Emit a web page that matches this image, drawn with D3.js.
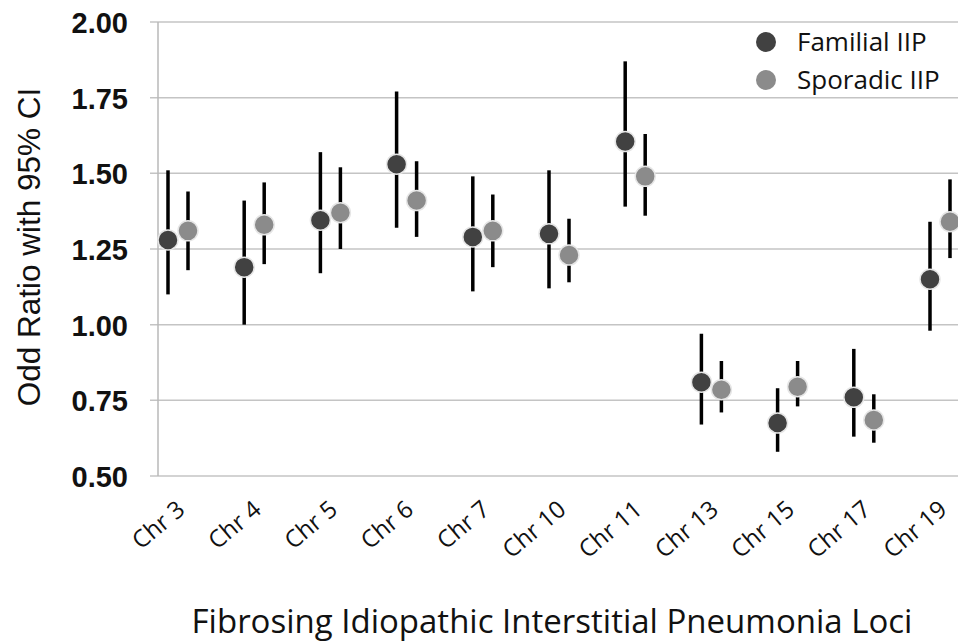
<!DOCTYPE html>
<html>
<head>
<meta charset="utf-8">
<script src="https://cdn.jsdelivr.net/npm/d3@7"></script>
<style>
  html, body { margin: 0; padding: 0; background: #fff; }
  svg { display: block; }
</style>
</head>
<body>
<div id="chart"></div>
<script>
'use strict';

// Loci on the x axis
var categories = ['Chr 3', 'Chr 4', 'Chr 5', 'Chr 6', 'Chr 7', 'Chr 10', 'Chr 11', 'Chr 13', 'Chr 15', 'Chr 17', 'Chr 19'];

// Familial IIP: odds ratio with 95% CI
var familialOR = [1.28, 1.19, 1.345, 1.53, 1.29, 1.30, 1.605, 0.81, 0.675, 0.76, 1.15];
var familialLo = [1.10, 1.00, 1.17, 1.32, 1.11, 1.12, 1.39, 0.67, 0.58, 0.63, 0.98];
var familialHi = [1.51, 1.41, 1.57, 1.77, 1.49, 1.51, 1.87, 0.97, 0.79, 0.92, 1.34];

// Sporadic IIP: odds ratio with 95% CI
var sporadicOR = [1.31, 1.33, 1.37, 1.41, 1.31, 1.23, 1.49, 0.785, 0.795, 0.685, 1.34];
var sporadicLo = [1.18, 1.20, 1.25, 1.29, 1.19, 1.14, 1.36, 0.71, 0.73, 0.61, 1.22];
var sporadicHi = [1.44, 1.47, 1.52, 1.54, 1.43, 1.35, 1.63, 0.88, 0.88, 0.77, 1.48];

var yTicks = [0.50, 0.75, 1.00, 1.25, 1.50, 1.75, 2.00];

var seriesNames = ['Familial IIP', 'Sporadic IIP'];
var seriesColors = ['#414141', '#8b8b8b'];

(function () {
  var width = 958;
  var height = 644;

  var svg = d3.select('#chart')
    .append('svg')
    .attr('width', width)
    .attr('height', height);

  var axisX = 158;
  var plotRight = 958;

  var y = d3.scaleLinear().domain([0.5, 2.0]).range([476, 22]);
  var x = d3.scalePoint().domain(categories).range([178, 940]);

  var series = [
    { name: seriesNames[0], color: seriesColors[0], or: familialOR, lo: familialLo, hi: familialHi, dx: -10 },
    { name: seriesNames[1], color: seriesColors[1], or: sporadicOR, lo: sporadicLo, hi: sporadicHi, dx: 10 }
  ];

  // gridlines
  svg.append('g')
    .selectAll('line')
    .data(yTicks)
    .join('line')
    .attr('x1', axisX - 8)
    .attr('x2', plotRight)
    .attr('y1', function (d) { return y(d); })
    .attr('y2', function (d) { return y(d); })
    .attr('stroke', '#c4c4c4')
    .attr('stroke-width', 1.5);

  // vertical axis line
  svg.append('line')
    .attr('x1', axisX).attr('x2', axisX)
    .attr('y1', y(2.0)).attr('y2', y(0.5))
    .attr('stroke', '#b8b8b8')
    .attr('stroke-width', 1.5);

  // y tick labels
  var yAxis = d3.axisLeft(y)
    .tickValues(yTicks)
    .tickFormat(d3.format('.2f'))
    .tickSize(0)
    .tickPadding(30);
  var yg = svg.append('g')
    .attr('transform', 'translate(' + axisX + ',0)')
    .call(yAxis);
  yg.select('.domain').remove();
  yg.selectAll('text')
    .attr('font-family', '"Liberation Sans", Arial, sans-serif')
    .attr('font-weight', 'bold')
    .attr('font-size', 29)
    .attr('fill', '#111')
    .attr('dy', '0.36em');

  // x tick labels, rotated
  var xAxis = d3.axisBottom(x).tickSize(0).tickPadding(0);
  var xg = svg.append('g')
    .attr('transform', 'translate(0,' + y(0.5) + ')')
    .call(xAxis);
  xg.select('.domain').remove();
  xg.selectAll('text')
    .attr('font-family', '"Open Sans", sans-serif')
    .attr('font-size', 24)
    .attr('fill', '#111')
    .attr('text-anchor', 'end')
    .attr('dy', null)
    .attr('y', null)
    .attr('transform', 'translate(8,36) rotate(-40)');

  // error bars + markers
  series.forEach(function (s) {
    var g = svg.append('g');
    g.selectAll('line')
      .data(categories)
      .join('line')
      .attr('x1', function (d) { return x(d) + s.dx; })
      .attr('x2', function (d) { return x(d) + s.dx; })
      .attr('y1', function (d, i) { return y(s.lo[i]); })
      .attr('y2', function (d, i) { return y(s.hi[i]); })
      .attr('stroke', '#000')
      .attr('stroke-width', 3.5);
    g.selectAll('circle')
      .data(categories)
      .join('circle')
      .attr('cx', function (d) { return x(d) + s.dx; })
      .attr('cy', function (d, i) { return y(s.or[i]); })
      .attr('r', 10)
      .attr('fill', s.color)
      .attr('stroke', '#e6e6e6')
      .attr('stroke-width', 1.5);
  });

  // legend
  var legend = svg.append('g')
    .selectAll('g')
    .data(series)
    .join('g')
    .attr('transform', function (d, i) { return 'translate(766,' + (42 + i * 38) + ')'; });
  legend.append('circle')
    .attr('r', 10)
    .attr('fill', function (d) { return d.color; });
  legend.append('text')
    .text(function (d) { return d.name; })
    .attr('x', 31)
    .attr('dy', '0.36em')
    .attr('font-family', '"Open Sans", sans-serif')
    .attr('font-size', 26)
    .attr('fill', '#111');

  // axis titles
  svg.append('text')
    .text('Odd Ratio with 95% CI')
    .attr('transform', 'translate(40,247) rotate(-90)')
    .attr('text-anchor', 'middle')
    .attr('font-family', '"Liberation Sans", Arial, sans-serif')
    .attr('font-size', 31.5)
    .attr('fill', '#111');

  svg.append('text')
    .text('Fibrosing Idiopathic Interstitial Pneumonia Loci')
    .attr('x', 552)
    .attr('y', 633)
    .attr('text-anchor', 'middle')
    .attr('font-family', '"Open Sans", sans-serif')
    .attr('font-size', 33)
    .attr('fill', '#111');
})();
</script>
</body>
</html>
